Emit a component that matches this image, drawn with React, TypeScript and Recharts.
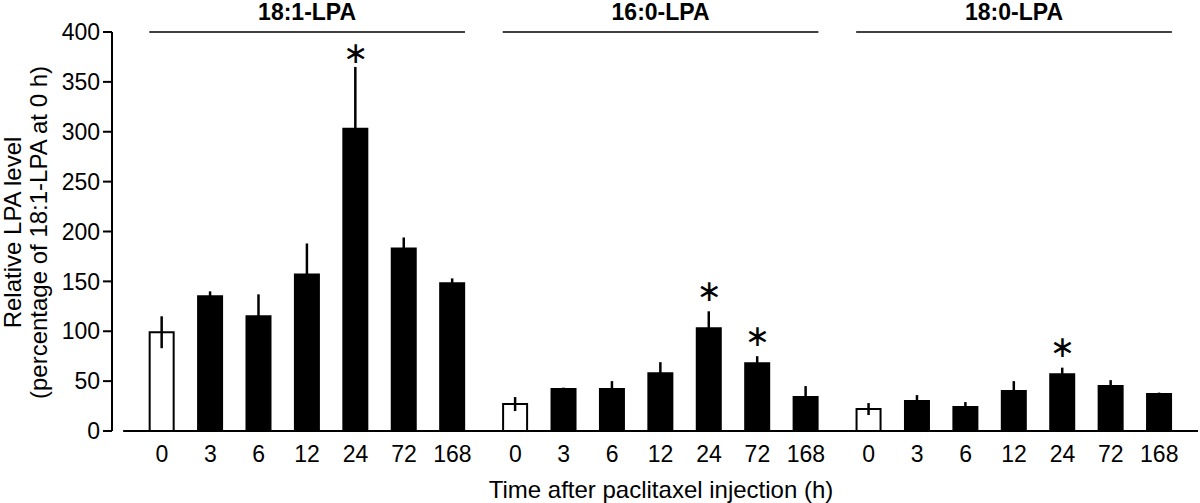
import { ComposedChart, Bar, Cell, ErrorBar, XAxis, YAxis, ReferenceLine, Scatter, Label } from 'recharts';

// time points (h) and lipid species
const hours = ['0', '3', '6', '12', '24', '72', '168'];
const species = ['18:1-LPA', '16:0-LPA', '18:0-LPA'];

// mean relative LPA level, one array per species
const lpa181 = [99, 135, 115, 157, 303, 183, 148];
const lpa160 = [27, 42, 42, 58, 103, 68, 34];
const lpa180 = [22, 30, 24, 40, 57, 45, 37];

// error (SD/SE) for each bar
const err181 = [16, 5, 22, 31, 62, 11, 5];
const err160 = [7, 1.5, 8, 11, 17, 7, 11];
const err180 = [6, 6, 5, 10, 6.5, 6, 1.5];

// level where a significance asterisk sits (null = none)
const star181 = [null, null, null, null, 379, null, null];
const star160 = [null, null, null, null, 141, 96, null];
const star180 = [null, null, null, null, 85, null, null];

const values = [lpa181, lpa160, lpa180];
const errors = [err181, err160, err180];
const stars = [star181, star160, star180];

const GAP = 0.3; // extra space between species groups, in bar slots

const rows = species.flatMap((sp, g) =>
  hours.map((h, i) => ({
    pos: g * (hours.length + GAP) + i,
    hour: h,
    species: sp,
    value: values[g][i],
    err: errors[g][i],
    star: stars[g][i],
    control: i === 0,
  }))
);

const starRows = rows.filter((r) => r.star !== null);
const tickPos = rows.map((r) => r.pos);
const tickLabel: Record<string, string> = {};
rows.forEach((r) => (tickLabel[String(r.pos)] = r.hour));

const lastPos = rows[rows.length - 1].pos;
const HALF = 0.26;

const Asterisk = (props: any) => (
  <text
    x={props.cx}
    y={props.cy}
    textAnchor="middle"
    dominantBaseline="central"
    fontSize={30}
    fontFamily='"DejaVu Sans", sans-serif'
    fill="#000"
  >
    ∗
  </text>
);

const YTitle = (props: any) => {
  const { viewBox } = props;
  const cy = viewBox.y + viewBox.height / 2 + 1;
  return (
    <g fontSize={24} fill="#000">
      <text x={12} y={cy} transform={`rotate(-90 12 ${cy})`} textAnchor="middle" dominantBaseline="central">
        Relative LPA level
      </text>
      <text x={38} y={cy} transform={`rotate(-90 38 ${cy})`} textAnchor="middle" dominantBaseline="central">
        (percentage of 18:1-LPA at 0 h)
      </text>
    </g>
  );
};

export default function App() {
  return (
    <div style={{ position: 'absolute', left: 0, top: 0, width: 1200, height: 503, background: '#fff', fontFamily: '"Liberation Sans", Arial, sans-serif' }}>
      <ComposedChart width={1200} height={503} data={rows} margin={{ top: 32, right: 2, bottom: 0, left: 0 }}>
        <XAxis
          dataKey="pos"
          type="number"
          domain={[-1.03, lastPos + 0.8]}
          ticks={tickPos}
          tickFormatter={(v) => tickLabel[String(v)]}
          interval={0}
          axisLine={false}
          tickLine={false}
          tickSize={8}
          tickMargin={7}
          height={72}
          tick={{ fontSize: 23, fill: '#000' }}
          allowDataOverflow
        >
          <Label value="Time after paclitaxel injection (h)" position="insideBottom" offset={5} fontSize={24} fill="#000" dx={6} />
        </XAxis>
        <YAxis
          type="number"
          domain={[0, 400]}
          ticks={[0, 50, 100, 150, 200, 250, 300, 350, 400]}
          width={112}
          tickSize={9}
          tickMargin={3}
          axisLine={{ stroke: '#000', strokeWidth: 2 }}
          tickLine={{ stroke: '#000', strokeWidth: 2 }}
          tick={{ fontSize: 23, fill: '#000' }}
          label={<YTitle />}
        />
        <ReferenceLine
          segment={[{ x: -0.8, y: 0 }, { x: lastPos + 0.8, y: 0 }]}
          stroke="#000"
          strokeWidth={2}
        />
        {species.map((sp, g) => {
          const start = g * (hours.length + GAP);
          return (
            <ReferenceLine
              key={sp}
              segment={[{ x: start - HALF, y: 400 }, { x: start + hours.length - 1 + HALF, y: 400 }]}
              stroke="#000"
              strokeWidth={1.5}
              label={{ value: sp, position: 'top', offset: 12, fontSize: 23, fontWeight: 'bold', fill: '#000' }}
            />
          );
        })}
        <Bar dataKey="value" barSize={24} isAnimationActive={false} stroke="#000" strokeWidth={2}>
          {rows.map((r) => (
            <Cell key={r.pos} fill={r.control ? '#fff' : '#000'} />
          ))}
          <ErrorBar dataKey="err" width={0} stroke="#000" strokeWidth={2.5} direction="y" />
        </Bar>
        <Scatter data={starRows} dataKey="star" shape={<Asterisk />} isAnimationActive={false} />
      </ComposedChart>
    </div>
  );
}
